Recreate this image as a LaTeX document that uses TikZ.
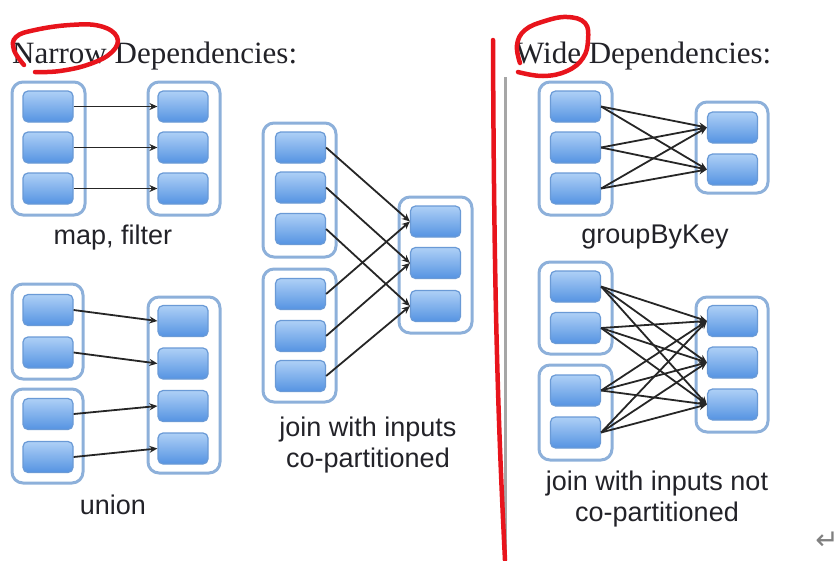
\documentclass[tikz,border=0pt]{standalone}
\usepackage{fontspec}
\setmainfont{Liberation Serif}
\setsansfont{Liberation Sans}
\newfontfamily\symfont{DejaVu Sans}
\usetikzlibrary{arrows.meta}
\definecolor{parttop}{HTML}{AED0F6}
\definecolor{partbot}{HTML}{5593E2}
\definecolor{partline}{HTML}{6A9AD6}
\definecolor{boxline}{HTML}{8DB0DA}
\definecolor{markred}{HTML}{E8141C}
\definecolor{inktext}{HTML}{222228}
\begin{document}
\begin{tikzpicture}[x=1pt,y=-1pt,
  part/.style={draw=partline, line width=1.2pt, rounded corners=5pt,
    top color=parttop, bottom color=partbot,
    minimum width=50pt, minimum height=31pt, inner sep=0pt},
  rdd/.style={draw=boxline, line width=3pt, rounded corners=11pt,
    fill=white, inner sep=0pt},
  dep/.style={-{Stealth[length=8pt,width=7pt]}, line width=1.8pt, black!85},
  caption/.style={font=\sffamily\fontsize{27}{31}\selectfont, text=inktext,
    align=center},
  title/.style={font=\fontsize{31}{34}\selectfont, text=inktext,
    anchor=base west, inner sep=0pt},
  markup/.style={draw=markred, line width=4.5pt, line cap=round, line join=round}]
\useasboundingbox (0,0) rectangle (838,560);

% ---------- headings ----------
\node[title] (narrowtitle) at (12,63) {Narrow Dependencies:};
\node[title] (widetitle) at (515,63) {Wide Dependencies:};

% separator between the two halves
\coordinate (septop) at (505,77);
\coordinate (sepbot) at (505,560);
\draw[line width=3pt, black!35] (septop) -- (sepbot);

% ---------- map, filter ----------
\node[rdd, minimum width=73pt, minimum height=133pt] (mapA) at (48.5,148.5) {};
\node[rdd, minimum width=72pt, minimum height=133pt] (mapB) at (184,148.5) {};
\foreach \i/\y in {1/106.5,2/147.5,3/188.5}{
  \node[part] (ma\i) at (48,\y) {};
  \node[part] (mb\i) at (183,\y) {};
}
\foreach \i in {1,2,3} \draw[dep] (ma\i.east) -- (mb\i.west);
\node[caption] (mapcap) at (113,238) {map, filter};

% ---------- union ----------
\node[rdd, minimum width=71pt, minimum height=95pt] (uniA) at (47.5,331.5) {};
\node[rdd, minimum width=71pt, minimum height=94pt] (uniB) at (47.5,436) {};
\node[rdd, minimum width=72pt, minimum height=176pt] (uniC) at (184,385) {};
\node[part] (ua1) at (48,310) {};
\node[part] (ua2) at (48,352.5) {};
\node[part] (ua3) at (48,414) {};
\node[part] (ua4) at (48,457) {};
\foreach \i/\y in {1/321,2/363.5,3/406,4/448.5} \node[part] (uc\i) at (183,\y) {};
\foreach \i in {1,2,3,4} \draw[dep] (ua\i.east) -- (uc\i.west);
\node[caption] (unicap) at (113,505) {union};

% ---------- join with inputs co-partitioned ----------
\node[rdd, minimum width=73pt, minimum height=134pt] (cjA) at (299.5,190) {};
\node[rdd, minimum width=73pt, minimum height=133pt] (cjB) at (299.5,335.5) {};
\node[rdd, minimum width=73pt, minimum height=136pt] (cjC) at (435.5,265) {};
\foreach \i/\y in {1/147.5,2/187.5,3/229} \node[part] (ja\i) at (300.5,\y) {};
\foreach \i/\y in {1/294,2/336,3/376} \node[part] (jb\i) at (300.5,\y) {};
\foreach \i/\y in {1/221.5,2/263,3/306} \node[part] (jc\i) at (435.5,\y) {};
\foreach \i in {1,2,3}{
  \draw[dep] (ja\i.east) -- (jc\i.west);
  \draw[dep] (jb\i.east) -- (jc\i.west);
}
\node[caption] (cjcap) at (368,445) {join with inputs\\co-partitioned};

% ---------- groupByKey ----------
\node[rdd, minimum width=73pt, minimum height=133pt] (gbA) at (575.5,148.5) {};
\node[rdd, minimum width=72pt, minimum height=91pt] (gbB) at (732,147.5) {};
\foreach \i/\y in {1/106.5,2/147.5,3/188.5} \node[part] (ga\i) at (575.5,\y) {};
\foreach \i/\y in {1/127.5,2/169.5} \node[part] (gb\i) at (732.5,\y) {};
\foreach \i in {1,2,3} \foreach \k in {1,2} \draw[dep] (ga\i.east) -- (gb\k.west);
\node[caption] (gbcap) at (655,237) {groupByKey};

% ---------- join with inputs not co-partitioned ----------
\node[rdd, minimum width=73pt, minimum height=92pt] (njA) at (575.5,308) {};
\node[rdd, minimum width=73pt, minimum height=95pt] (njB) at (575.5,412.5) {};
\node[rdd, minimum width=72pt, minimum height=135pt] (njC) at (732,364.5) {};
\foreach \i/\y in {1/286.5,2/328,3/390.5,4/432.5} \node[part] (na\i) at (575.5,\y) {};
\foreach \i/\y in {1/321,2/362.5,3/404.5} \node[part] (nc\i) at (732.5,\y) {};
\foreach \i in {1,2,3,4} \foreach \k in {1,2,3} \draw[dep] (na\i.east) -- (nc\k.west);
\node[caption] (njcap) at (657,499) {join with inputs not\\co-partitioned};

% paragraph mark in the corner
\node[font=\symfont\fontsize{28}{30}\selectfont, text=black!50, inner sep=0pt]
  (parmark) at (827,541) {↵};

% ---------- red pen marks ----------
\draw[markup] plot[smooth, tension=0.7] coordinates
  {(24,65) (14,50) (16,37) (35,30) (70,25) (100,26) (117,37) (112,52) (90,64) (60,71) (35,72)};
\draw[markup] plot[smooth, tension=0.7] coordinates
  {(520,63) (517,45) (525,30) (545,21) (567,17) (585,23) (588,40) (583,58) (567,71) (543,76) (518,72)};
\coordinate (pentop) at (493,40);
\coordinate (penbot) at (505,560);
\draw[markup] (pentop) .. controls (494,300) and (498,420) .. (penbot);
\end{tikzpicture}
\end{document}
